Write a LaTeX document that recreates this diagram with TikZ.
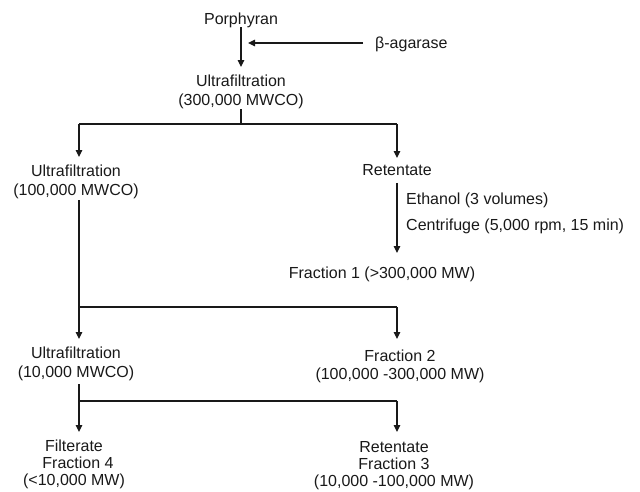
\documentclass[tikz,border=0pt]{standalone}
\usepackage{fontspec}
\setmainfont{Liberation Sans}
\usetikzlibrary{arrows.meta}
\begin{document}
\begin{tikzpicture}[x=1pt,y=-1pt,
  lblm/.style={font=\fontsize{16}{19}\selectfont, inner sep=0pt, align=center, text=black!90},
  lbl/.style={lblm, text height=11.5pt, text depth=0pt},
  ln/.style={line width=1.2pt, draw=black!90},
  arr/.style={ln, -{Triangle[width=6.5pt,length=7pt]}}]
\useasboundingbox (0,0) rectangle (640,491);

% nodes
\node[lbl] (porph) at (241,19) {Porphyran};
\node[lbl, anchor=west] (agar) at (375,43) {β-agarase};
\node[lblm, anchor=north] (u300) at (241,75) {Ultrafiltration\\(300,000 MWCO)};
\node[lblm, anchor=north] (u100) at (76,165) {Ultrafiltration\\(100,000 MWCO)};
\node[lbl] (ret) at (397,170) {Retentate};
\node[lbl, anchor=west] (eth) at (406,199) {Ethanol (3 volumes)};
\node[lbl, anchor=west] (cent) at (406,225) {Centrifuge (5,000 rpm, 15 min)};
\node[lbl] (f1) at (382,273) {Fraction 1 (>300,000 MW)};
\node[lblm, anchor=north] (u10) at (76,347) {Ultrafiltration\\(10,000 MWCO)};
\node[lblm, anchor=north, font=\fontsize{16}{18}\selectfont] (f2) at (400,350) {Fraction 2\\(100,000 -300,000 MW)};
\node[lblm, anchor=north, font=\fontsize{16}{17}\selectfont] (f4) at (74,440) {Filterate\\\hspace*{8pt}Fraction 4\\(<10,000 MW)};
\node[lblm, anchor=north, font=\fontsize{16}{17}\selectfont] (f3) at (394,441) {Retentate\\Fraction 3\\(10,000 -100,000 MW)};

% junction coordinates
\coordinate (j1) at (241,124);
\coordinate (jL1) at (79,124);
\coordinate (jR1) at (397,124);
\coordinate (jL2) at (79,307);
\coordinate (jR2) at (397,307);
\coordinate (jL3) at (79,401);
\coordinate (jR3) at (397,401);

% connectors
\draw[arr, shorten <=2.5pt, shorten >=8pt] (porph.south) -- (porph.south |- u300.north);
\draw[arr, shorten <=12pt, shorten >=7pt] (agar.west) -- (agar.west -| porph.south);
\draw[ln] (u300.south) -- (j1);
\draw[ln] (jL1) -- (jR1);
\draw[arr, shorten >=8pt] (jL1) -- (jL1 |- u100.north);
\draw[arr, shorten >=6pt] (jR1) -- (jR1 |- ret.north);
\draw[arr, shorten <=7pt, shorten >=14pt] (ret.south) -- (ret.south |- f1.north);
\draw[arr, shorten <=1pt, shorten >=8pt] (u100.south -| jL1) -- (jL1 |- u10.north);
\draw[ln] (jL2) -- (jR2);
\draw[arr, shorten >=11pt] (jR2) -- (jR2 |- f2.north);
\draw[ln, shorten <=3pt] (u10.south -| jL3) -- (jL3);
\draw[ln] (jL3) -- (jR3);
\draw[arr, shorten >=8pt] (jL3) -- (jL3 |- f4.north);
\draw[arr, shorten >=9pt] (jR3) -- (jR3 |- f3.north);
\end{tikzpicture}
\end{document}
